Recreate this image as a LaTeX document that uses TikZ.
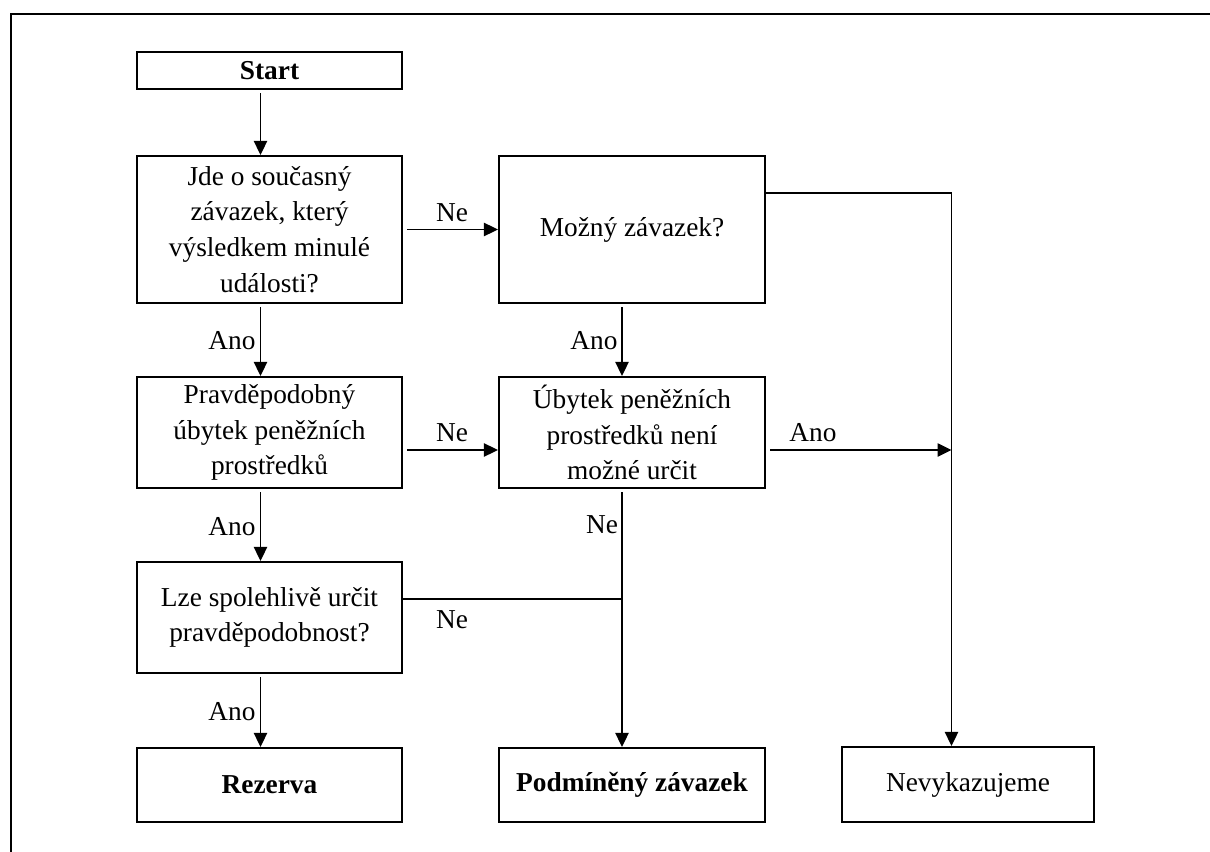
\documentclass[tikz,border=0pt]{standalone}
\usepackage{fontspec}
\setmainfont{Liberation Serif}
\usetikzlibrary{arrows.meta}
\tikzset{every picture/.style={line width=0.75pt}}
\tikzset{
	box/.style={draw, line width=1.6pt, align=center, inner sep=2pt},
	boxL/.style={box, minimum width=198.75pt},
	boxM/.style={box, minimum width=199.5pt},
	arr/.style={-{Triangle[length=10.5pt,width=10pt]}, line width=1.1pt},
	lin/.style={line width=1.1pt},
	every node/.style={font=\fontsize{20.5pt}{26.8pt}\selectfont}}

\begin{document}
\begin{tikzpicture}[x=0.75pt,y=0.75pt,yscale=-1,xscale=1]
	\useasboundingbox (0,0) rectangle (1210,852);

	%Shape: Frame
	\draw [line width=2.2pt] (11,852) -- (11,14) -- (1210,14) ;

	%Shape: Rectangle [start]
	\node [boxL, minimum height=27.75pt] (start) at (269.5,70.5) {\textbf{Start}};
	%Shape: Rectangle [q1]
	\node [boxL, minimum height=110.25pt] (q1) at (269.5,229.5) {Jde o současný\\závazek, který\\výsledkem minulé\\události?};
	%Shape: Rectangle [mozny]
	\node [boxM, minimum height=110.25pt] (mozny) at (632,229.5) {Možný závazek?};
	%Shape: Rectangle [pravd]
	\node [boxL, minimum height=83.25pt] (pravd) at (269.5,432.5) {Pravděpodobný\\úbytek peněžních\\prostředků};
	%Shape: Rectangle [ubytek]
	\node [boxM, minimum height=83.25pt] (ubytek) at (632,432.5) {Úbytek peněžních\\prostředků není\\možné určit};
	%Shape: Rectangle [lze]
	\node [boxL, minimum height=83.25pt] (lze) at (269.5,617.5) {Lze spolehlivě určit\\pravděpodobnost?};
	%Shape: Rectangle [rezerva]
	\node [boxL, minimum height=55.5pt] (rezerva) at (269.5,785) {\textbf{Rezerva}};
	%Shape: Rectangle [podm]
	\node [boxM, minimum height=55.5pt] (podm) at (632,785) {\textbf{Podmíněný závazek}};
	%Shape: Rectangle [nevyk]
	\node [box, minimum width=189pt, minimum height=56.25pt] (nevyk) at (968,784.5) {Nevykazujeme};

	% columns and rows of the connectors
	\coordinate (colL) at (260.5,0);
	\coordinate (colM) at (622,0);
	\coordinate (colR) at (951.5,0);
	\coordinate (rowA) at (0,193);
	\coordinate (rowB) at (0,450);
	\coordinate (rowC) at (0,599);

	%Straight Lines
	\draw [arr, shorten <=2.5pt] (start.south -| colL) -- (q1.north -| colL) ;
	\draw [arr, shorten <=3pt] (q1.east) -- (mozny.west) ;
	\draw [arr] (mozny.east |- rowA) -- (rowA -| colR) -- (nevyk.north -| colR) ;
	\draw [arr, shorten <=2.5pt] (mozny.south -| colM) -- (ubytek.north -| colM) ;
	\draw [arr, shorten <=2.5pt] (q1.south -| colL) -- (pravd.north -| colL) ;
	\draw [arr, shorten <=3pt] (pravd.east |- rowB) -- (ubytek.west |- rowB) ;
	\draw [arr, shorten <=3pt] (ubytek.east |- rowB) -- (rowB -| colR) ;
	\draw [arr, shorten <=2.5pt] (ubytek.south -| colM) -- (podm.north -| colM) ;
	\draw [lin] (lze.east |- rowC) -- (rowC -| colM) ;
	\draw [arr, shorten <=2.5pt] (pravd.south -| colL) -- (lze.north -| colL) ;
	\draw [arr, shorten <=2.5pt] (lze.south -| colL) -- (rezerva.north -| colL) ;

	% Text Node
	\node (ne1) at (452,213) {Ne};
	% Text Node
	\node (ano1) at (232,341) {Ano};
	% Text Node
	\node (ano2) at (594,341) {Ano};
	% Text Node
	\node (ne2) at (452,433) {Ne};
	% Text Node
	\node (ano3) at (813,433) {Ano};
	% Text Node
	\node (ano4) at (232,527) {Ano};
	% Text Node
	\node (ne3) at (602,525) {Ne};
	% Text Node
	\node (ne4) at (452,620) {Ne};
	% Text Node
	\node (ano5) at (232,712) {Ano};

\end{tikzpicture}
\end{document}
